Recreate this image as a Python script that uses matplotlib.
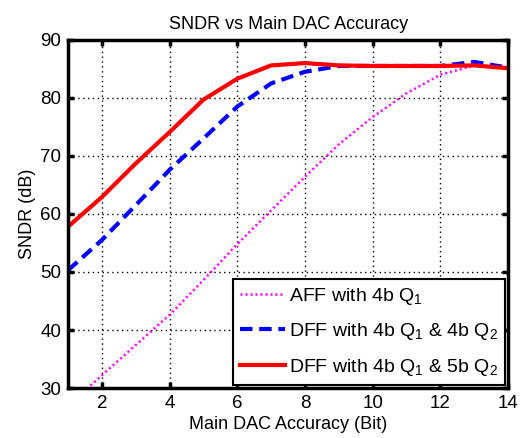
import matplotlib
matplotlib.use("Agg")
import matplotlib.pyplot as plt

plt.rcParams['font.family'] = ['Liberation Sans', 'DejaVu Sans']
plt.rcParams['mathtext.fontset'] = 'custom'
plt.rcParams['mathtext.rm'] = 'Liberation Sans'
plt.rcParams['mathtext.it'] = 'Liberation Sans'

bits = [1, 2, 3, 4, 5, 6, 7, 8, 9, 10, 11, 12, 13, 14]
aff_4b = [27.0, 32.2, 37.4, 42.6, 48.6, 54.8, 60.6, 66.4, 72.0, 76.7, 80.8, 84.0, 85.6, 85.3]
dff_4b4b = [50.3, 55.5, 61.5, 67.6, 73.0, 78.5, 82.5, 84.5, 85.5, 85.5, 85.5, 85.5, 86.2, 85.2]
dff_4b5b = [57.8, 62.9, 68.7, 74.1, 79.7, 83.3, 85.6, 86.0, 85.6, 85.5, 85.5, 85.5, 85.6, 85.1]

labels = ['AFF with 4b Q$_1$',
          'DFF with 4b Q$_1$ & 4b Q$_2$',
          'DFF with 4b Q$_1$ & 5b Q$_2$']

fig = plt.figure(figsize=(5.31, 4.38), dpi=100)
ax = fig.add_axes([0.128, 0.114, 0.829, 0.795])

ax.plot(bits, aff_4b, color='#ff00ff', linestyle=(0, (0.8, 1.2)), linewidth=1.8, label=labels[0])
ax.plot(bits, dff_4b4b, color='#0000ff', linestyle=(0, (3, 1.6)), linewidth=3.0, label=labels[1])
ax.plot(bits, dff_4b5b, color='#ff0000', linestyle='-', linewidth=3.0, label=labels[2])

ax.set_xlim(1, 14)
ax.set_ylim(30, 90)
ax.set_xticks([2, 4, 6, 8, 10, 12, 14])
ax.set_yticks([30, 40, 50, 60, 70, 80, 90])
ax.grid(True, color='black', linestyle=(0, (1, 2.5)), linewidth=1.0)
ax.tick_params(direction='in', top=True, right=True, length=4, width=2.5, labelsize=13.5, pad=5)
for s in ax.spines.values():
    s.set_linewidth(2.5)

ax.set_title('SNDR vs Main DAC Accuracy', fontsize=13, pad=8)
ax.set_xlabel('Main DAC Accuracy (Bit)', fontsize=13, labelpad=3)
ax.set_ylabel('SNDR (dB)', fontsize=13, labelpad=3)

leg = ax.legend(loc='lower right', bbox_to_anchor=(0.992, 0.01), fontsize=14,
                frameon=True, fancybox=False, edgecolor='black', framealpha=1,
                handlelength=2.3, handletextpad=0.2, borderpad=0.35, labelspacing=0.75,
                borderaxespad=0)
leg.get_frame().set_linewidth(1.5)

fig.savefig('out.png', dpi=100)
